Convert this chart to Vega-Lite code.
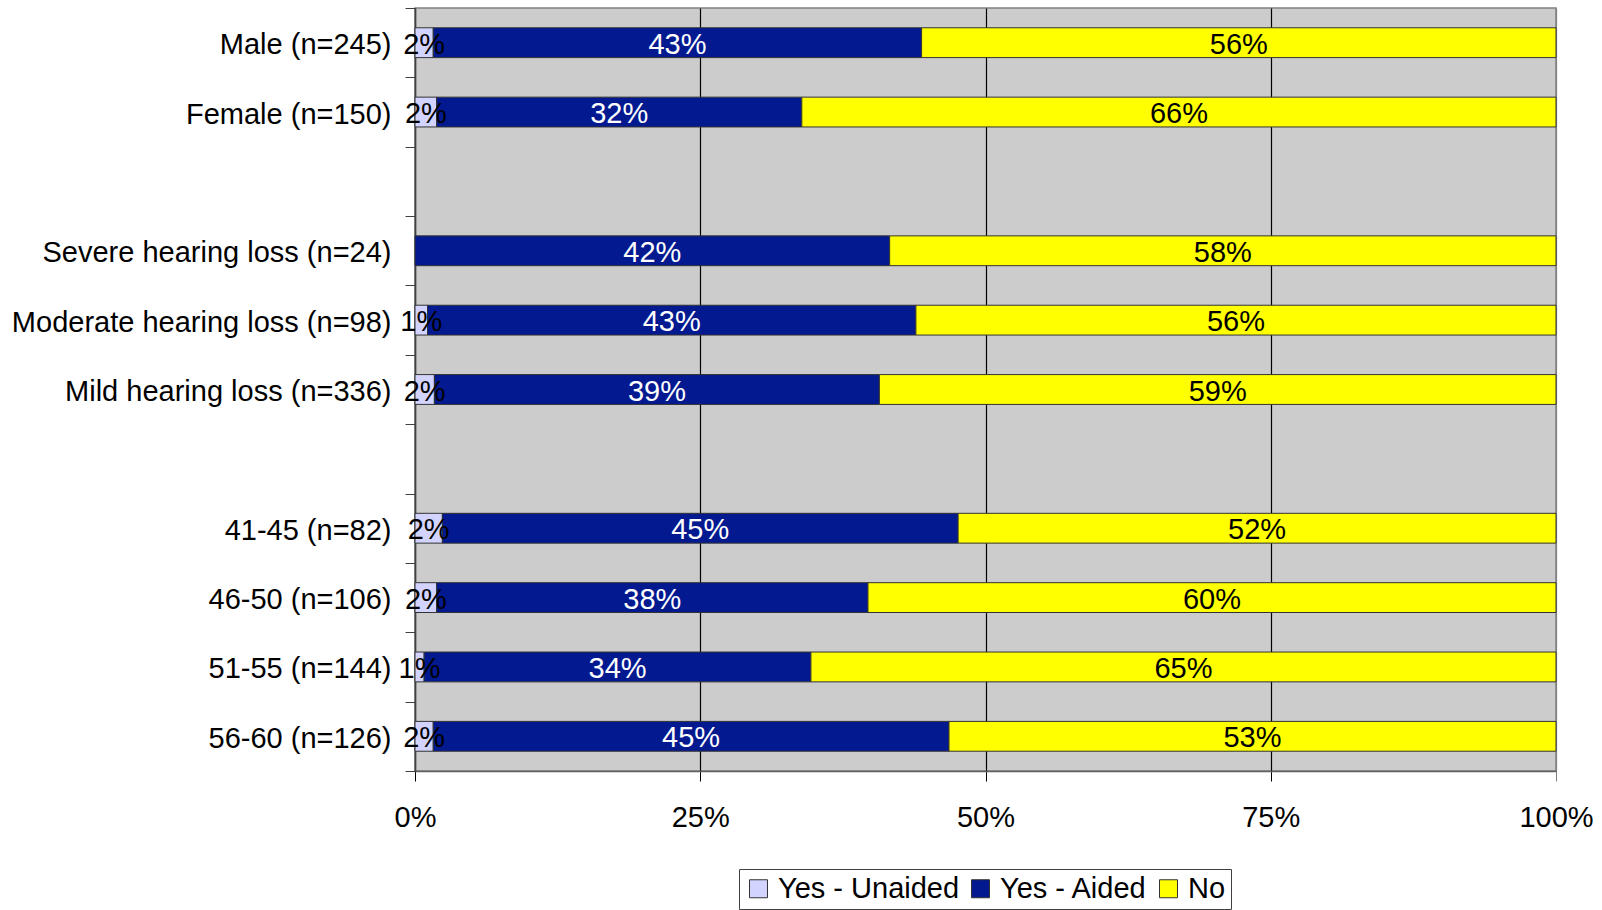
{
  "$schema": "https://vega.github.io/schema/vega-lite/v6.json",
  "width": 1141,
  "height": 763,
  "autosize": "none",
  "padding": {"left": 415, "top": 8, "right": 46, "bottom": 139},
  "background": "white",
  "config": {
    "font": "Liberation Sans",
    "view": {"fill": "#CCCCCC", "stroke": "#808080", "strokeWidth": 1.5},
    "legend": {"symbolStrokeColor": "#333333", "symbolStrokeWidth": 1}
  },
  "data": {
    "values": [
      {"group": "Male (n=245)", "resp": "Yes - Unaided", "value": 0.016},
      {"group": "Male (n=245)", "resp": "Yes - Aided", "value": 0.428},
      {"group": "Male (n=245)", "resp": "No", "value": 0.556},
      {"group": "Female (n=150)", "resp": "Yes - Unaided", "value": 0.019},
      {"group": "Female (n=150)", "resp": "Yes - Aided", "value": 0.320},
      {"group": "Female (n=150)", "resp": "No", "value": 0.661},
      {"group": "Severe hearing loss (n=24)", "resp": "Yes - Aided", "value": 0.416},
      {"group": "Severe hearing loss (n=24)", "resp": "No", "value": 0.584},
      {"group": "Moderate hearing loss (n=98)", "resp": "Yes - Unaided", "value": 0.011},
      {"group": "Moderate hearing loss (n=98)", "resp": "Yes - Aided", "value": 0.428},
      {"group": "Moderate hearing loss (n=98)", "resp": "No", "value": 0.561},
      {"group": "Mild hearing loss (n=336)", "resp": "Yes - Unaided", "value": 0.017},
      {"group": "Mild hearing loss (n=336)", "resp": "Yes - Aided", "value": 0.390},
      {"group": "Mild hearing loss (n=336)", "resp": "No", "value": 0.593},
      {"group": "41-45 (n=82)", "resp": "Yes - Unaided", "value": 0.024},
      {"group": "41-45 (n=82)", "resp": "Yes - Aided", "value": 0.452},
      {"group": "41-45 (n=82)", "resp": "No", "value": 0.524},
      {"group": "46-50 (n=106)", "resp": "Yes - Unaided", "value": 0.019},
      {"group": "46-50 (n=106)", "resp": "Yes - Aided", "value": 0.378},
      {"group": "46-50 (n=106)", "resp": "No", "value": 0.603},
      {"group": "51-55 (n=144)", "resp": "Yes - Unaided", "value": 0.008},
      {"group": "51-55 (n=144)", "resp": "Yes - Aided", "value": 0.339},
      {"group": "51-55 (n=144)", "resp": "No", "value": 0.653},
      {"group": "56-60 (n=126)", "resp": "Yes - Unaided", "value": 0.016},
      {"group": "56-60 (n=126)", "resp": "Yes - Aided", "value": 0.452},
      {"group": "56-60 (n=126)", "resp": "No", "value": 0.532}
    ]
  },
  "transform": [
    {"stack": "value", "groupby": ["group"], "sort": [{"field": "resp", "order": "descending"}], "as": ["v0", "v1"]},
    {"calculate": "(datum.v0 + datum.v1) / 2", "as": "mid"}
  ],
  "encoding": {
    "y": {
      "field": "group",
      "type": "nominal",
      "title": null,
      "scale": {
        "domain": ["Male (n=245)", "Female (n=150)", " ", "Severe hearing loss (n=24)", "Moderate hearing loss (n=98)", "Mild hearing loss (n=336)", "  ", "41-45 (n=82)", "46-50 (n=106)", "51-55 (n=144)", "56-60 (n=126)"],
        "paddingInner": 0,
        "paddingOuter": 0
      },
      "axis": {
        "tickBand": "extent",
        "labelFontSize": 29,
        "labelColor": "black",
        "labelPadding": 14,
        "labelOffset": 2,
        "tickSize": 10,
        "tickColor": "#404040",
        "domainColor": "#404040",
        "domainWidth": 1.5,
        "labelLimit": 0,
        "grid": false
      }
    }
  },
  "layer": [
    {
      "mark": {"type": "bar", "stroke": "#333333", "strokeWidth": 1, "height": {"band": 0.43}},
      "encoding": {
        "x": {
          "field": "v0",
          "type": "quantitative",
          "title": null,
          "scale": {"domain": [0, 1], "nice": false},
          "axis": {
            "values": [0, 0.25, 0.5, 0.75, 1],
            "format": ".0%",
            "labelFontSize": 29,
            "labelColor": "black",
            "labelPadding": 22,
            "labelFlush": false,
            "tickSize": 10,
            "tickColor": {"condition": {"test": "datum.value == 1", "value": "#808080"}, "value": "black"},
            "domainColor": "#606060",
            "domainWidth": 1.5,
            "grid": true,
            "gridColor": {"condition": {"test": "datum.value == 1", "value": "#808080"}, "value": "black"},
            "gridOpacity": 1,
            "gridWidth": 1.2
          }
        },
        "x2": {"field": "v1"},
        "color": {
          "field": "resp",
          "type": "nominal",
          "scale": {"domain": ["Yes - Unaided", "Yes - Aided", "No"], "range": ["#D2D4FF", "#021990", "#FFFF00"]},
          "legend": {
            "title": null,
            "orient": "none",
            "direction": "horizontal",
            "legendX": 324,
            "legendY": 861,
            "labelFontSize": 29,
            "labelLimit": 0,
            "labelColor": "black",
            "symbolType": "square",
            "symbolSize": 324,
            "labelOffset": 5,
            "columnPadding": 6,
            "padding": 5,
            "strokeColor": "#404040",
            "fillColor": "white"
          }
        }
      }
    },
    {
      "mark": {"type": "text", "fontSize": 29, "align": "center", "baseline": "middle", "dy": 2},
      "encoding": {
        "x": {"field": "mid", "type": "quantitative"},
        "text": {"field": "value", "type": "quantitative", "format": ".0%"},
        "color": {
          "condition": {"test": "datum.resp == 'Yes - Aided'", "value": "white"},
          "value": "black"
        }
      }
    }
  ]
}
